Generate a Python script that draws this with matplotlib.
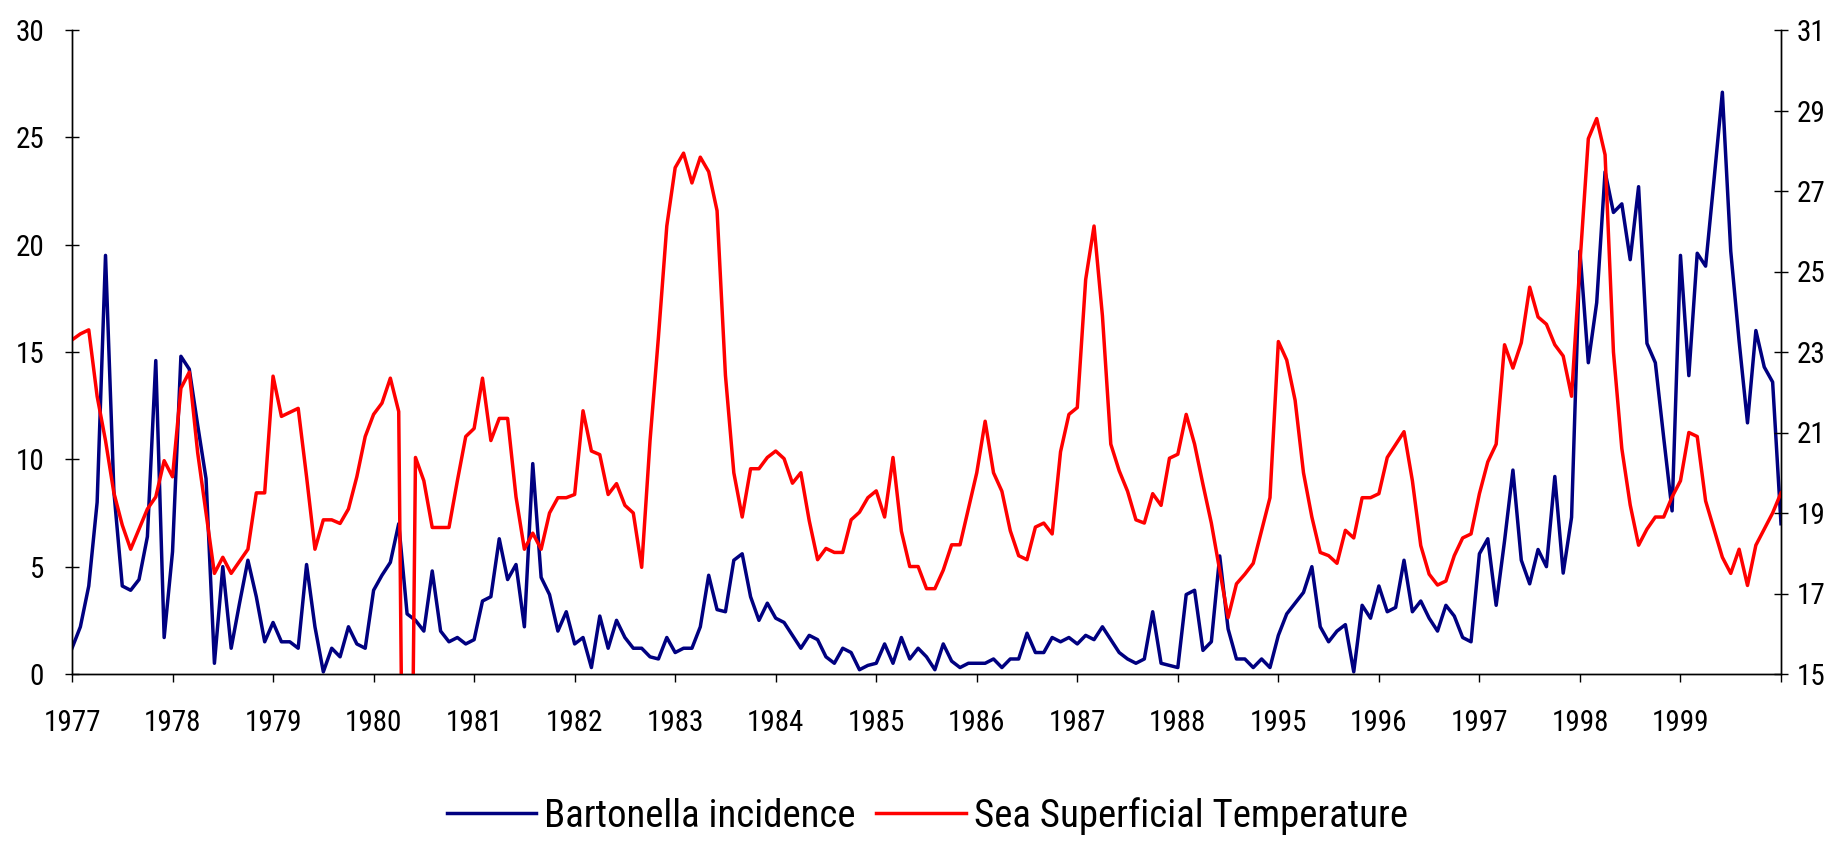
import matplotlib
matplotlib.use('Agg')
import matplotlib.pyplot as plt
import numpy as np

year_labels = ['1977', '1978', '1979', '1980', '1981', '1982', '1983', '1984',
               '1985', '1986', '1987', '1988', '1995', '1996', '1997', '1998', '1999']

# Monthly Bartonella incidence (left axis)
bartonella = [
    1.2, 2.2, 4.1, 8.0, 19.5, 8.5, 4.1, 3.9, 4.4, 6.4, 14.6, 1.7,        # 1977
    5.7, 14.8, 14.2, 11.6, 9.1, 0.5, 5.0, 1.2, 3.3, 5.3, 3.6, 1.5,       # 1978
    2.4, 1.5, 1.5, 1.2, 5.1, 2.2, 0.1, 1.2, 0.8, 2.2, 1.4, 1.2,          # 1979
    3.9, 4.6, 5.2, 7.0, 2.8, 2.5, 2.0, 4.8, 2.0, 1.5, 1.7, 1.4,          # 1980
    1.6, 3.4, 3.6, 6.3, 4.4, 5.1, 2.2, 9.8, 4.5, 3.7, 2.0, 2.9,          # 1981
    1.4, 1.7, 0.3, 2.7, 1.2, 2.5, 1.7, 1.2, 1.2, 0.8, 0.7, 1.7,          # 1982
    1.0, 1.2, 1.2, 2.2, 4.6, 3.0, 2.9, 5.3, 5.6, 3.6, 2.5, 3.3,          # 1983
    2.6, 2.4, 1.8, 1.2, 1.8, 1.6, 0.8, 0.5, 1.2, 1.0, 0.2, 0.4,          # 1984
    0.5, 1.4, 0.5, 1.7, 0.7, 1.2, 0.8, 0.2, 1.4, 0.6, 0.3, 0.5,          # 1985
    0.5, 0.5, 0.7, 0.3, 0.7, 0.7, 1.9, 1.0, 1.0, 1.7, 1.5, 1.7,          # 1986
    1.4, 1.8, 1.6, 2.2, 1.6, 1.0, 0.7, 0.5, 0.7, 2.9, 0.5, 0.4,          # 1987
    0.3, 3.7, 3.9, 1.1, 1.5, 5.5, 2.1, 0.7, 0.7, 0.3, 0.7, 0.3,          # 1988
    1.8, 2.8, 3.3, 3.8, 5.0, 2.2, 1.5, 2.0, 2.3, 0.1, 3.2, 2.6,          # 1995
    4.1, 2.9, 3.1, 5.3, 2.9, 3.4, 2.6, 2.0, 3.2, 2.7, 1.7, 1.5,          # 1996
    5.6, 6.3, 3.2, 6.2, 9.5, 5.3, 4.2, 5.8, 5.0, 9.2, 4.7, 7.3,          # 1997
    19.7, 14.5, 17.3, 23.4, 21.5, 21.9, 19.3, 22.7, 15.4, 14.5, 11.0, 7.6,  # 1998
    19.5, 13.9, 19.6, 19.0, 23.0, 27.1, 19.7, 15.5, 11.7, 16.0, 14.3, 13.6,  # 1999
    7.0,
]

# Monthly sea superficial temperature (right axis); 0 = missing month
sst = [
    23.3, 23.45, 23.55, 21.9, 20.8, 19.5, 18.7, 18.1, 18.6, 19.1, 19.4, 20.3,
    19.9, 22.1, 22.5, 20.5, 19.0, 17.5, 17.9, 17.5, 17.8, 18.1, 19.5, 19.5,
    22.4, 21.4, 21.5, 21.6, 19.9, 18.1, 18.83, 18.83, 18.74, 19.1, 19.9, 20.9,
    21.45, 21.73, 22.35, 21.52, 0.0, 20.38, 19.8, 18.64, 18.64, 18.64, 19.8, 20.9,
    21.1, 22.35, 20.8, 21.35, 21.35, 19.4, 18.1, 18.5, 18.1, 19.0, 19.38, 19.38,
    19.46, 21.54, 20.54, 20.45, 19.46, 19.73, 19.19, 19.0, 17.65, 20.8, 23.37, 26.13,
    27.58, 27.94, 27.2, 27.84, 27.48, 26.51, 22.42, 20.0, 18.9, 20.1, 20.1, 20.38,
    20.54, 20.35, 19.74, 20.0, 18.81, 17.84, 18.12, 18.02, 18.02, 18.83, 19.02, 19.38,
    19.55, 18.9, 20.38, 18.55, 17.67, 17.67, 17.12, 17.12, 17.58, 18.21, 18.21, 19.1,
    20.0, 21.28, 20.0, 19.54, 18.56, 17.94, 17.84, 18.65, 18.75, 18.48, 20.52, 21.45,
    21.62, 24.8, 26.13, 23.9, 20.71, 20.05, 19.54, 18.83, 18.75, 19.48, 19.19, 20.36,
    20.46, 21.45, 20.71, 19.71, 18.75, 17.58, 16.4, 17.24, 17.48, 17.75, 18.57, 19.38,
    23.26, 22.8, 21.8, 20.0, 18.9, 18.02, 17.94, 17.75, 18.57, 18.38, 19.38, 19.38,
    19.48, 20.38, 20.7, 21.02, 19.8, 18.19, 17.48, 17.21, 17.31, 17.94, 18.38, 18.48,
    19.48, 20.27, 20.71, 23.18, 22.6, 23.23, 24.61, 23.87, 23.69, 23.18, 22.9, 21.9,
    25.2, 28.3, 28.8, 27.9, 23.0, 20.6, 19.2, 18.2, 18.6, 18.9, 18.9, 19.4,
    19.8, 21.0, 20.9, 19.3, 18.6, 17.9, 17.5, 18.1, 17.2, 18.2, 18.6, 19.0,
    19.5,
]

series_labels = ['Bartonella incidence', 'Sea Superficial Temperature']
left_ticks = [0, 5, 10, 15, 20, 25, 30]
right_ticks = [15, 17, 19, 21, 23, 25, 27, 29, 31]

plt.rcParams['font.family'] = ['Roboto Condensed', 'Liberation Sans', 'DejaVu Sans']

W, H = 1847, 844
fig = plt.figure(figsize=(W / 100, H / 100), dpi=100)
ax_left, ax_right, ax_top, ax_bottom = 72, 1781, 30, 674
ax = fig.add_axes([ax_left / W, 1 - ax_bottom / H,
                   (ax_right - ax_left) / W, (ax_bottom - ax_top) / H])
ax2 = ax.twinx()

x = np.arange(len(bartonella))
l1, = ax.plot(x, bartonella, color='#000080', lw=2.5)
l2, = ax2.plot(np.arange(len(sst)), sst, color='#FF0000', lw=2.5)

ax.set_xlim(0, len(x) - 1)
ax.set_ylim(0, 30)
ax2.set_ylim(15, 31)
ax.set_yticks(left_ticks)
ax2.set_yticks(right_ticks)
ax.set_xticks(np.arange(0, 12 * len(year_labels), 12))
ax.set_xticklabels(year_labels)
ax.set_xticks([len(x) - 1], minor=True)

for a in (ax, ax2):
    a.spines['top'].set_visible(False)
    for s in ('left', 'right', 'bottom'):
        a.spines[s].set_color('#000000')
        a.spines[s].set_linewidth(1.0)

ax.tick_params(axis='y', direction='inout', length=10, width=1, labelsize=21, pad=15, colors='black')
ax2.tick_params(axis='y', direction='inout', length=10, width=1, labelsize=21, pad=6, colors='black')
ax.tick_params(axis='x', which='both', direction='out', length=6, width=1, labelsize=21, pad=19, colors='black')

fig.legend([l1, l2], series_labels, loc='center', bbox_to_anchor=(0.502, 1 - 816 / H),
           ncol=2, frameon=False, fontsize=28, handlelength=2.3, handletextpad=0.21,
           columnspacing=0.53)

fig.savefig('out.png', dpi=100)
